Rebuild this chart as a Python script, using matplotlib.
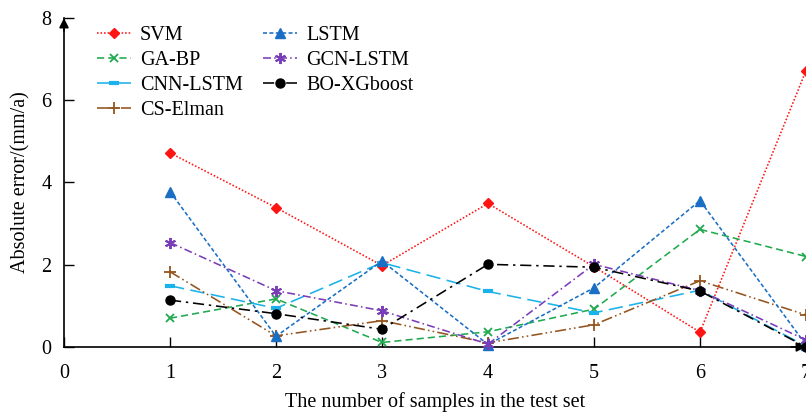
import matplotlib

matplotlib.use("Agg")
import matplotlib.pyplot as plt

plt.rcParams["font.family"] = ["Liberation Serif", "DejaVu Serif"]

samples = [1, 2, 3, 4, 5, 6, 7]

svm = [4.72, 3.39, 1.98, 3.49, 1.95, 0.36, 6.72]
ga_bp = [0.70, 1.17, 0.11, 0.37, 0.92, 2.86, 2.20]
cnn_lstm = [1.49, 0.94, 2.05, 1.35, 0.83, 1.38, 0.02]
cs_elman = [1.83, 0.27, 0.64, 0.10, 0.54, 1.61, 0.78]
lstm = [3.78, 0.26, 2.09, 0.06, 1.44, 3.56, 0.05]
gcn_lstm = [2.54, 1.37, 0.88, 0.07, 2.01, 1.37, 0.17]
bo_xgboost = [1.14, 0.81, 0.43, 2.01, 1.94, 1.36, 0.0]

x_ticks = [0, 1, 2, 3, 4, 5, 6, 7]
y_ticks = [0, 2, 4, 6, 8]

# label, values, colour, linestyle, marker, marker size, marker edge width
series = [
    ("SVM", svm, "#ff1414", (0, (1, 1.2)), "D", 5, 1.0),
    ("GA-BP", ga_bp, "#1faa4f", (0, (4.5, 2.5)), "x", 6, 1.3),
    ("CNN-LSTM", cnn_lstm, "#1ab2ea", (0, (9, 4)), "_", 7, 3.0),
    ("CS-Elman", cs_elman, "#94541f", (0, (7, 2, 1, 2, 1, 2)), "+", 9, 1.3),
    ("LSTM", lstm, "#1a6fc4", (0, (2.5, 1.5)), "^", 7.5, 1.0),
    ("GCN-LSTM", gcn_lstm, "#7a3db8", (0, (5, 2, 1, 2)), (6, 2, 0), 8, 1.4),
    ("BO-XGboost", bo_xgboost, "black", (0, (7, 3, 1.5, 3)), "o", 6.5, 1.0),
]

fig = plt.figure(figsize=(8.06, 4.15), dpi=100)
ax = fig.add_axes([0.0794, 0.1639, 0.9206, 0.7927])

for label, values, color, ls, marker, ms, mew in series:
    ax.plot(samples, values, color=color, linestyle=ls, linewidth=1.15,
            marker=marker, markersize=ms, markeredgewidth=mew,
            markerfacecolor=color, markeredgecolor=color, label=label,
            clip_on=False, zorder=3)

ax.set_xlim(0, 7)
ax.set_ylim(0, 8)
ax.set_xticks(x_ticks)
ax.set_yticks(y_ticks)
ax.tick_params(direction="in", length=7, width=1.0, labelsize=14.5)
ax.tick_params(axis="x", pad=12)
ax.tick_params(axis="y", pad=9)
for side in ("top", "right"):
    ax.spines[side].set_visible(False)
for side in ("left", "bottom"):
    ax.spines[side].set_linewidth(1.2)

# arrow heads on the axes
ax.annotate("", xy=(0, 1.0), xytext=(0, 0.96), xycoords="axes fraction",
            arrowprops=dict(arrowstyle="-|>", color="black", lw=1.2,
                            mutation_scale=14, shrinkA=0, shrinkB=0))
ax.annotate("", xy=(1.0, 0), xytext=(0.98, 0), xycoords="axes fraction",
            arrowprops=dict(arrowstyle="-|>", color="black", lw=1.2,
                            mutation_scale=14, shrinkA=0, shrinkB=0))

ax.set_xlabel("The number of samples in the test set", fontsize=14.5, labelpad=7)
ax.set_ylabel("Absolute error/(mm/a)", fontsize=14.5, labelpad=8)

ax.legend(ncol=2, loc="upper left", bbox_to_anchor=(0.044, 0.976),
          frameon=False, fontsize=14.5, handlelength=1.7, handletextpad=0.45,
          columnspacing=1.0, labelspacing=0.3, borderaxespad=0, borderpad=0)

fig.savefig("out.png", dpi=100)
